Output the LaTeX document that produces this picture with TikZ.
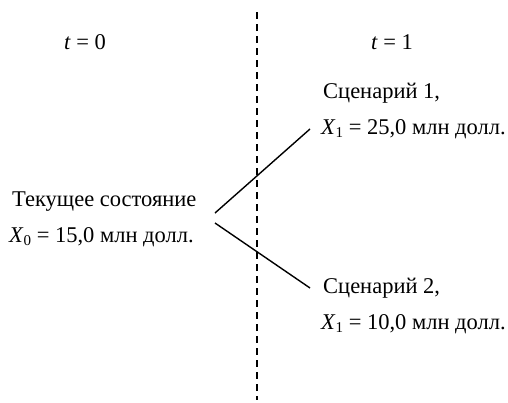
\documentclass[tikz,border=0pt]{standalone}
\usepackage{fontspec}
\setmainfont{Liberation Serif}
\newcommand{\sbx}[1]{\raisebox{-0.3ex}{\fontsize{15}{15}\selectfont #1}}
\begin{document}
\begin{tikzpicture}[x=1pt,y=-1pt,
  lbl/.style={font=\fontsize{22.5}{36}\selectfont, inner sep=0pt, anchor=west, align=left},
  conn/.style={line width=1.4pt},
  sep/.style={line width=1.4pt, dash pattern=on 7pt off 5pt}]
\useasboundingbox (0,0) rectangle (508,402);
\node[lbl, anchor=center] (t0) at (85,42) {\textit{t} = 0};
\node[lbl, anchor=center] (t1) at (392,42) {\textit{t} = 1};
\coordinate (top) at (257,12);
\coordinate (bot) at (257,400);
\draw[sep] (top) -- (bot);
\node[lbl] (cur) at (9,219) {\hspace*{3pt}Текущее состояние\\\textit{X}\sbx{0} = 15,0 млн долл.};
\node[lbl] (s1) at (321,111) {\hspace*{2pt}Сценарий 1,\\\textit{X}\sbx{1} = 25,0 млн долл.};
\node[lbl] (s2) at (321,306) {\hspace*{2pt}Сценарий 2,\\\textit{X}\sbx{1} = 10,0 млн долл.};
\coordinate (c0a) at (215,213);
\coordinate (c0b) at (215,223);
\coordinate (c1) at (310,129);
\coordinate (c2) at (310,288);
\draw[conn] (c0a) -- (c1);
\draw[conn] (c0b) -- (c2);
\end{tikzpicture}
\end{document}
